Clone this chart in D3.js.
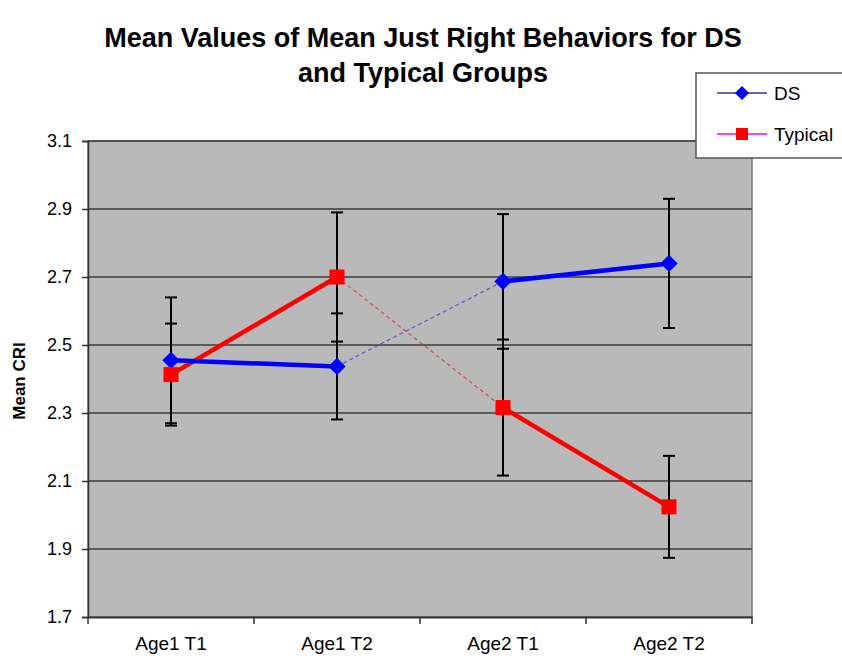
<!DOCTYPE html>
<html>
<head>
<meta charset="utf-8">
<script src="https://cdnjs.cloudflare.com/ajax/libs/d3/7.8.5/d3.min.js"></script>
<style>
  body { margin: 0; background: #fff; }
  text { font-family: "Liberation Sans", Arial, sans-serif; fill: #000; }
</style>
</head>
<body>
<div id="chart"></div>
<script>
// data
var categories = ["Age1 T1", "Age1 T2", "Age2 T1", "Age2 T2"];
var dsMeans = [2.455, 2.437, 2.687, 2.740];
var dsErr = [0.185, 0.156, 0.198, 0.19];
var typMeans = [2.413, 2.70, 2.316, 2.024];
var typErr = [0.15, 0.19, 0.2, 0.15];
var yTicks = [1.7, 1.9, 2.1, 2.3, 2.5, 2.7, 2.9, 3.1];

var width = 842,
    height = 658;

var svg = d3.select("#chart").append("svg")
    .attr("width", width)
    .attr("height", height);

var x = d3.scaleBand()
    .domain(categories)
    .range([88, 752]);

var y = d3.scaleLinear()
    .domain([1.7, 3.1])
    .range([617, 141]);

var cx = function(i) { return x(categories[i]) + x.bandwidth() / 2; };

// plot area
svg.append("rect")
    .attr("x", 88).attr("y", 141)
    .attr("width", 752 - 88).attr("height", 617 - 141)
    .attr("fill", "#b9b9b9")
    .attr("stroke", "#7a7a7a")
    .attr("stroke-width", 1.5);

// gridlines
svg.append("g")
  .selectAll("line")
    .data(yTicks.slice(1))
  .enter().append("line")
    .attr("x1", 88).attr("x2", 752)
    .attr("y1", function(d) { return y(d); })
    .attr("y2", function(d) { return y(d); })
    .attr("stroke", "#3c3c3c")
    .attr("stroke-width", 1.5);

// y axis
var yAxis = svg.append("g")
    .attr("transform", "translate(88,0)")
    .call(d3.axisLeft(y).tickValues(yTicks).tickFormat(d3.format(".1f")).tickSize(6).tickPadding(10));
yAxis.select(".domain").attr("stroke", "#333").attr("stroke-width", 1.5);
yAxis.selectAll(".tick line").attr("stroke", "#333").attr("stroke-width", 1.5);
yAxis.selectAll("text").style("font-size", "18px").attr("fill", "#000");

// x axis
var xAxis = svg.append("g")
    .attr("transform", "translate(0,617)")
    .call(d3.axisBottom(x).tickSize(0).tickPadding(0));
xAxis.select(".domain").attr("stroke", "#333").attr("stroke-width", 2);
xAxis.selectAll("text")
    .attr("dy", null)
    .attr("y", 33)
    .style("font-size", "19px").attr("fill", "#000");
xAxis.selectAll(".bnd")
    .data(d3.range(categories.length + 1))
  .enter().append("line")
    .attr("x1", function(i) { return 88 + i * x.bandwidth(); })
    .attr("x2", function(i) { return 88 + i * x.bandwidth(); })
    .attr("y1", 0).attr("y2", 7)
    .attr("stroke", "#333")
    .attr("stroke-width", 1.5);

// y label
svg.append("text")
    .attr("transform", "translate(25,381) rotate(-90)")
    .attr("text-anchor", "middle")
    .style("font-size", "17px")
    .style("font-weight", "bold")
    .text("Mean CRI");

// title
svg.append("text")
    .attr("x", 423).attr("y", 47)
    .attr("text-anchor", "middle")
    .style("font-size", "27px")
    .style("font-weight", "bold")
    .text("Mean Values of Mean Just Right Behaviors for DS");
svg.append("text")
    .attr("x", 423).attr("y", 82)
    .attr("text-anchor", "middle")
    .style("font-size", "27px")
    .style("font-weight", "bold")
    .text("and Typical Groups");

// error bars
function errorBars(means, errs) {
  var g = svg.append("g");
  means.forEach(function(m, i) {
    var lo = y(m - errs[i]), hi = y(m + errs[i]);
    g.append("line")
        .attr("x1", cx(i)).attr("x2", cx(i))
        .attr("y1", hi).attr("y2", lo)
        .attr("stroke", "#000").attr("stroke-width", 2);
    [lo, hi].forEach(function(v) {
      g.append("line")
          .attr("x1", cx(i) - 6).attr("x2", cx(i) + 6)
          .attr("y1", v).attr("y2", v)
          .attr("stroke", "#000").attr("stroke-width", 2);
    });
  });
}
errorBars(dsMeans, dsErr);
errorBars(typMeans, typErr);

// lines
function segments(means, color, dashColor) {
  var line = d3.line()
      .x(function(d) { return cx(d); })
      .y(function(d) { return y(means[d]); });
  svg.append("path").datum([0, 1])
      .attr("d", line).attr("fill", "none")
      .attr("stroke", color).attr("stroke-width", 4.5);
  svg.append("path").datum([1, 2])
      .attr("d", line).attr("fill", "none")
      .attr("stroke", dashColor).attr("stroke-width", 1.2)
      .attr("stroke-dasharray", "4,3");
  svg.append("path").datum([2, 3])
      .attr("d", line).attr("fill", "none")
      .attr("stroke", color).attr("stroke-width", 4.5);
}
segments(typMeans, "#ff0000", "#d05050");
segments(dsMeans, "#0000ff", "#5a5ad0");

// markers
svg.append("g").selectAll("path")
    .data(dsMeans)
  .enter().append("path")
    .attr("transform", function(d, i) { return "translate(" + cx(i) + "," + y(d) + ") rotate(45)"; })
    .attr("d", d3.symbol().type(d3.symbolSquare).size(150))
    .attr("fill", "#0000ff");
svg.append("g").selectAll("rect")
    .data(typMeans)
  .enter().append("rect")
    .attr("x", function(d, i) { return cx(i) - 7.5; })
    .attr("y", function(d) { return y(d) - 7.5; })
    .attr("width", 15).attr("height", 15)
    .attr("fill", "#ff0000");

// legend
var legend = svg.append("g");
legend.append("rect")
    .attr("x", 696).attr("y", 73)
    .attr("width", 160).attr("height", 85)
    .attr("fill", "#fff")
    .attr("stroke", "#555")
    .attr("stroke-width", 1.5);
legend.append("line")
    .attr("x1", 717).attr("x2", 767).attr("y1", 93).attr("y2", 93)
    .attr("stroke", "#333399").attr("stroke-width", 1.5);
legend.append("path")
    .attr("transform", "translate(742,93) rotate(45)")
    .attr("d", d3.symbol().type(d3.symbolSquare).size(100))
    .attr("fill", "#0000ff");
legend.append("text")
    .attr("x", 774).attr("y", 100)
    .style("font-size", "19px")
    .text("DS");
legend.append("line")
    .attr("x1", 717).attr("x2", 767).attr("y1", 134).attr("y2", 134)
    .attr("stroke", "#ff00ff").attr("stroke-width", 1.5);
legend.append("rect")
    .attr("x", 736).attr("y", 128).attr("width", 12).attr("height", 12)
    .attr("fill", "#ff0000");
legend.append("text")
    .attr("x", 774).attr("y", 141)
    .style("font-size", "19px")
    .text("Typical");
</script>
</body>
</html>
